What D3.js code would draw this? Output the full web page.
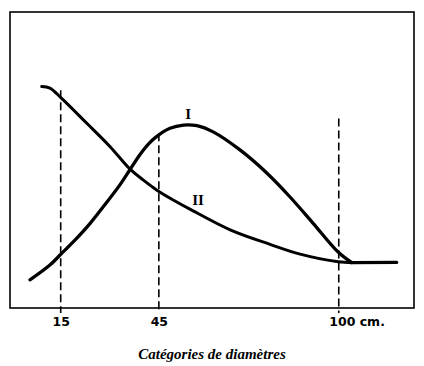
<!DOCTYPE html>
<html lang="fr">
<head>
    <meta charset="UTF-8">
    <script src="https://d3js.org/d3.v7.min.js" charset="utf-8"></script>
    <title>Catégories de diamètres</title>
    <style>
        body { margin: 0; background: white; }
        svg { display: block; }
    </style>
</head>
<body>
<div class="chart"></div>
<script>
    // curve I (thick bell) and curve II (decreasing)
    const curveOneX = [5.6, 11.7, 14.8, 18.9, 24.0, 28.0, 33.1, 36.2, 39.2, 41.8, 44.3, 48.4, 52.5, 56.6, 61.6, 69.8, 78.0, 85.1, 92.1, 99.8, 104.0, 117.7];
    const curveOneY = [9.5, 14.5, 17.9, 22.4, 28.6, 34.2, 41.6, 46.8, 51.8, 55.4, 57.9, 60.7, 61.8, 61.6, 59.5, 53.4, 45.6, 37.5, 28.7, 18.9, 15.3, 15.4];
    const curveTwoX = [9.2, 11.7, 15.2, 22.9, 30.1, 36.2, 40.3, 44.3, 49.4, 54.5, 66.8, 79.0, 88.2, 99.8, 104.0];
    const curveTwoY = [74.8, 74.3, 70.9, 62.5, 54.5, 46.9, 43.2, 39.9, 36.5, 33.4, 26.4, 21.5, 18.2, 15.6, 15.3];
    // curve I runs straight and flat after this diameter
    const kneeX = 104.0;

    const guideX = [15, 45, 100];
    const guideTop = [73.6, 59.0, 64.0];
    const tickLabels = ["15", "45", "100 cm."];
    const curveNames = ["I", "II"];
    const nameX = [54.0, 57.0];
    const nameY = [65.5, 36.5];

    const width = 424;
    const height = 366;

    const svg = d3.select(".chart").append("svg")
        .attr("width", width)
        .attr("height", height);

    const x = d3.scaleLinear().domain([-0.5, 123]).range([10, 414]);
    const y = d3.scaleLinear().domain([0, 100]).range([308, 12]);

    // frame
    svg.append("rect")
        .attr("x", x.range()[0])
        .attr("y", y.range()[1])
        .attr("width", x.range()[1] - x.range()[0])
        .attr("height", y.range()[0] - y.range()[1])
        .attr("fill", "none")
        .attr("stroke", "black")
        .attr("stroke-width", 1.6);

    // dashed guides
    svg.selectAll(".guide")
        .data(guideX)
        .enter()
        .append("line")
        .attr("class", "guide")
        .attr("x1", d => x(d))
        .attr("x2", d => x(d))
        .attr("y1", (d, i) => y(guideTop[i]))
        .attr("y2", y(0) + 5)
        .attr("stroke", "black")
        .attr("stroke-width", 1.6)
        .attr("stroke-dasharray", "8,4");

    const smoothLine = d3.line()
        .x(d => x(d[0]))
        .y(d => y(d[1]))
        .curve(d3.curveCatmullRom.alpha(0.5));
    const straightLine = d3.line()
        .x(d => x(d[0]))
        .y(d => y(d[1]));

    const seriesOne = curveOneX.map((v, i) => [v, curveOneY[i]]);
    const seriesTwo = curveTwoX.map((v, i) => [v, curveTwoY[i]]);

    svg.append("path")
        .attr("d", smoothLine(seriesTwo))
        .attr("fill", "none")
        .attr("stroke", "black")
        .attr("stroke-width", 3)
        .attr("stroke-linecap", "round");

    const oneCurved = seriesOne.filter(d => d[0] <= kneeX);
    const oneFlat = seriesOne.filter(d => d[0] >= kneeX);

    svg.append("path")
        .attr("d", smoothLine(oneCurved) + straightLine(oneFlat).replace("M", "L"))
        .attr("fill", "none")
        .attr("stroke", "black")
        .attr("stroke-width", 3.3)
        .attr("stroke-linecap", "round")
        .attr("stroke-linejoin", "round");

    // curve names
    svg.selectAll(".name")
        .data(curveNames)
        .enter()
        .append("text")
        .attr("class", "name")
        .attr("x", (d, i) => x(nameX[i]))
        .attr("y", (d, i) => y(nameY[i]))
        .attr("text-anchor", "middle")
        .attr("dominant-baseline", "central")
        .style("font-family", "'Liberation Serif', serif")
        .style("font-weight", "bold")
        .style("font-size", "15px")
        .text(d => d);

    // axis labels
    const axis = d3.axisBottom(x)
        .tickValues(guideX)
        .tickFormat((d, i) => tickLabels[i])
        .tickSize(0)
        .tickPadding(9);

    const axisG = svg.append("g")
        .attr("transform", `translate(0,${y(0)})`)
        .call(axis);
    axisG.select(".domain").remove();
    axisG.selectAll("text")
        .style("font-family", "'DejaVu Sans', sans-serif")
        .style("font-weight", "bold")
        .style("font-size", "12.5px")
        .attr("fill", "black");
    axisG.selectAll(".tick:last-of-type text")
        .attr("text-anchor", "start")
        .attr("x", -10);

    svg.append("text")
        .attr("x", 212)
        .attr("y", 359)
        .attr("text-anchor", "middle")
        .style("font-family", "'Liberation Serif', serif")
        .style("font-style", "italic")
        .style("font-weight", "bold")
        .style("font-size", "15px")
        .text("Catégories de diamètres");
</script>
</body>
</html>
